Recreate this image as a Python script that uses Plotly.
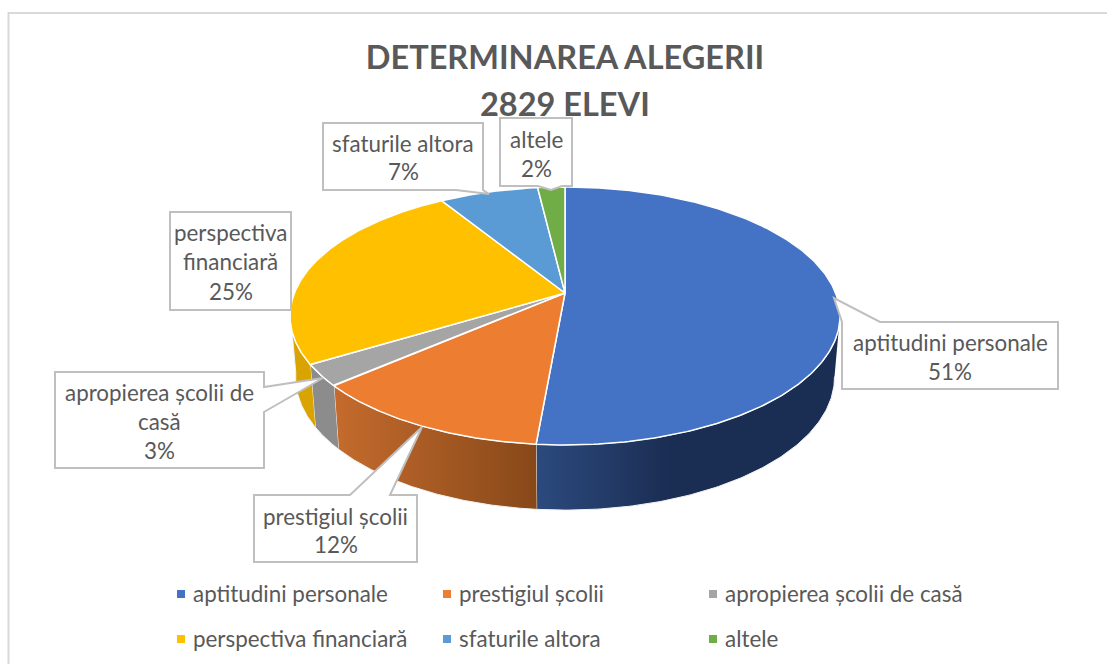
import numpy as np
import plotly.graph_objects as go

# ---- data ----
categories = ["aptitudini personale", "prestigiul școlii", "apropierea școlii de casă",
              "perspectiva financiară", "sfaturile altora", "altele"]
values = [51.4, 12.2, 2.7, 24.9, 6.9, 1.9]
colors = ["#4472C4", "#ED7D31", "#A5A5A5", "#FFC000", "#5B9BD5", "#70AD47"]
wall_ramps = [
    [[0, "#2C4A7E"], [0.45, "#1A2D52"], [1, "#1A2D52"]],
    [[0, "#C56B2D"], [1, "#874819"]],
    [[0, "#8C8C8C"], [1, "#8C8C8C"]],
    [[0, "#D9A300"], [1, "#D9A300"]],
]
title_lines = ["DETERMINAREA ALEGERII", "2829 ELEVI"]

# ---- projection of the pie disc (perspective view) ----
CX, CY = 565.0, 293.0
AX, CZ, K = 270.6, 124.9, 0.178
BOTTOM_CY, BOTTOM_SX, BOTTOM_SY = 353.6, 0.98, 1.03
TEXT = "#595959"
EDGE = "#BFBFBF"
LABEL_SIZE = 22.4


def rim(t, cy=CY, sx=1.0, sy=1.0):
    s, c = np.sin(t), np.cos(t)
    d = 1 + K * c
    return CX + AX * sx * s / d, cy - CZ * sy * c / d


fractions = np.cumsum([0] + values) / sum(values)
angles = 2 * np.pi * fractions

fig = go.Figure()

# side wall (front part only)
vis_lo, vis_hi = np.radians(100), np.radians(262)
for i in range(4):
    a0, a1 = max(angles[i], vis_lo), min(angles[i + 1], vis_hi)
    t = np.linspace(a0, a1, 120)
    xt, yt = rim(t)
    xb, yb = rim(t[::-1], BOTTOM_CY, BOTTOM_SX, BOTTOM_SY)
    fig.add_trace(go.Scatter(
        x=np.r_[xt, xb], y=np.r_[yt, yb], mode="lines", fill="toself",
        line=dict(color="#F2F2F2", width=1),
        fillgradient=dict(type="horizontal", colorscale=wall_ramps[i]),
        hoverinfo="skip", showlegend=False))

# top face
for i, name in enumerate(categories):
    t = np.linspace(angles[i], angles[i + 1], 240)
    x, y = rim(t)
    fig.add_trace(go.Scatter(
        x=np.r_[CX, x, CX], y=np.r_[CY, y, CY], mode="lines", fill="toself",
        fillcolor=colors[i], line=dict(color="white", width=1.5),
        name=name, text=f"{name}: {values[i]:.0f}%", hoverinfo="text", showlegend=False))

# ---- call-out boxes: left, top, right, bottom, wedge, text line centres ----
callouts = [
    dict(box=(842, 322, 1058, 389), side="top", wedge=(842, 880), tip=(834, 298), lines=[342, 371]),
    dict(box=(254, 495, 417, 562), side="top", wedge=(350, 390), tip=(422, 427), lines=[516, 544]),
    dict(box=(55, 372, 264, 468), side="right", wedge=(387, 412), tip=(323, 378), lines=[392, 421, 450]),
    dict(box=(170, 212, 291, 310), side=None, wedge=None, tip=None, lines=[232, 261, 291]),
    dict(box=(323, 123, 483, 190), side="bottom", wedge=(456, 483), tip=(489, 194), lines=[143, 171]),
    dict(box=(500, 118, 572, 186), side="bottom", wedge=(538, 562), tip=(551, 190), lines=[139, 168]),
]
wrapped = [
    ["aptitudini personale"],
    ["prestigiul școlii"],
    ["apropierea școlii de", "casă"],
    ["perspectiva", "financiară"],
    ["sfaturile altora"],
    ["altele"],
]

shapes = []
annotations = []
for c, val, txt in zip(callouts, values, wrapped):
    l, t, r, b = c["box"]
    pts = [(l, t)]
    if c["side"] == "top":
        pts += [(c["wedge"][0], t), c["tip"], (c["wedge"][1], t)]
    pts.append((r, t))
    if c["side"] == "right":
        pts += [(r, c["wedge"][0]), c["tip"], (r, c["wedge"][1])]
    pts.append((r, b))
    if c["side"] == "bottom":
        pts += [(c["wedge"][1], b), c["tip"], (c["wedge"][0], b)]
    pts.append((l, b))
    path = "M" + " L".join(f"{p[0]},{p[1]}" for p in pts) + " Z"
    shapes.append(dict(type="path", path=path, xref="x", yref="y", fillcolor="white",
                       line=dict(color=EDGE, width=2), layer="above"))
    for yy, line in zip(c["lines"], txt + [f"{val:.0f}%"]):
        annotations.append(dict(x=(l + r) / 2, y=yy, text=line, xref="x", yref="y",
                                showarrow=False, xanchor="center", yanchor="middle",
                                font=dict(family="Lato", size=LABEL_SIZE, color=TEXT)))

# ---- legend drawn as squares and text ----
legend_cols, legend_rows = [181, 447, 713], [594, 639]
for i, name in enumerate(categories):
    lx, ly = legend_cols[i % 3], legend_rows[i // 3]
    shapes.append(dict(type="rect", x0=lx - 4, x1=lx + 4, y0=ly - 4, y1=ly + 4, xref="x", yref="y",
                       fillcolor=colors[i], line=dict(width=0), layer="above"))
    annotations.append(dict(x=lx + 10, y=ly - 1, text=name, xref="x", yref="y", showarrow=False,
                            xanchor="left", yanchor="middle",
                            font=dict(family="Lato", size=LABEL_SIZE, color=TEXT)))

# second title line
annotations.append(dict(x=565, y=103, text=title_lines[1], xref="x", yref="y", showarrow=False,
                        xanchor="center", yanchor="middle",
                        font=dict(family="Lato", size=32.5, color=TEXT, weight="bold")))

# chart frame
shapes.append(dict(type="path", path="M8.5,664 L8.5,13 L1107,13", xref="x", yref="y",
                   line=dict(color="#D9D9D9", width=2), layer="below"))

fig.update_layout(
    width=1107, height=664, autosize=False,
    margin=dict(l=0, r=0, t=0, b=0),
    paper_bgcolor="white", plot_bgcolor="white",
    showlegend=False,
    xaxis=dict(range=[0, 1107], visible=False, fixedrange=True),
    yaxis=dict(range=[664, 0], visible=False, fixedrange=True),
    title=dict(text=title_lines[0], x=565 / 1107, xanchor="center",
               y=1 - 58 / 664, yanchor="middle", xref="paper", yref="paper",
               font=dict(family="Lato", size=32.5, color=TEXT, weight="bold")),
    shapes=shapes, annotations=annotations,
)

fig.write_html("out.html", config=dict(displayModeBar=False),
               post_script="document.body.style.margin='0';")
